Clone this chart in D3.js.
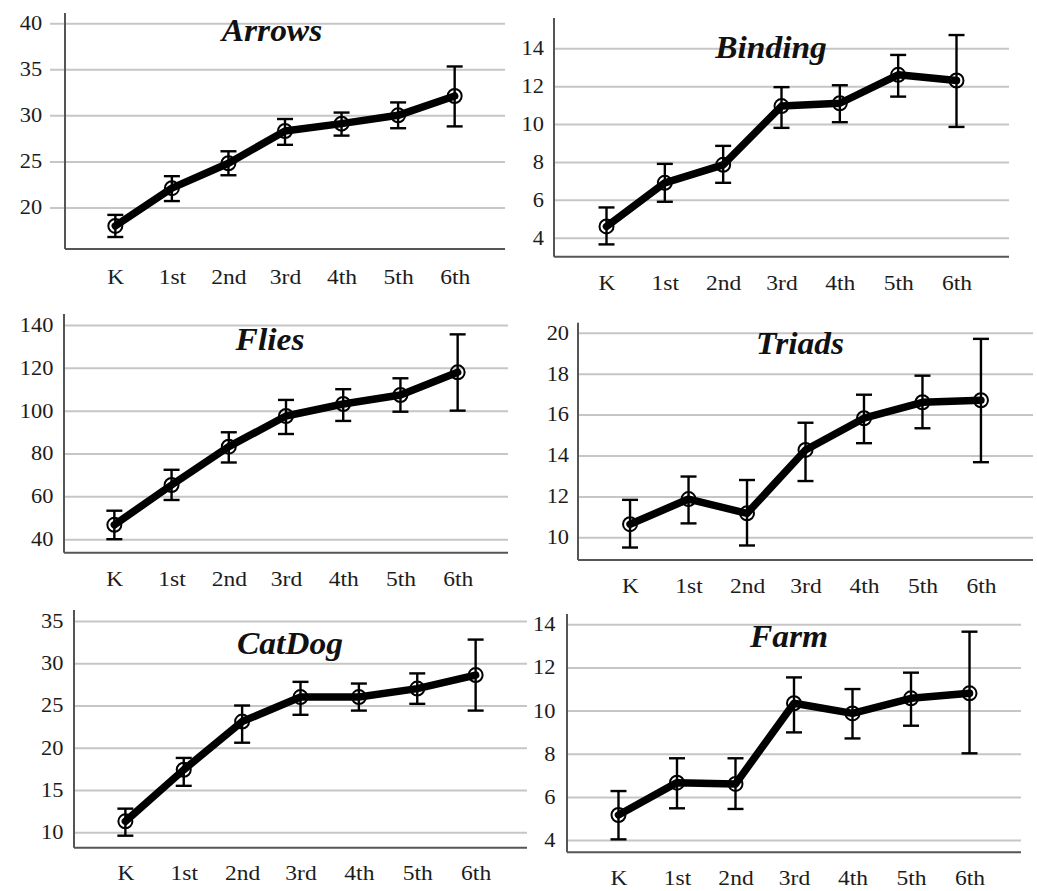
<!DOCTYPE html>
<html>
<head>
<meta charset="utf-8">
<script src="https://cdn.jsdelivr.net/npm/d3@7"></script>
<style>
  body { margin: 0; background: #fff; }
  svg { display: block; }
</style>
</head>
<body>
<script>
// grades on the x axis
const grades = ['K', '1st', '2nd', '3rd', '4th', '5th', '6th']

// means and error bar ends
const arrowsMean = [18.0, 22.1, 24.8, 28.3, 29.1, 30.0, 32.1]
const arrowsLow = [16.8, 20.7, 23.5, 26.8, 27.8, 28.6, 28.8]
const arrowsHigh = [19.2, 23.4, 26.1, 29.6, 30.3, 31.4, 35.3]
const arrowsTicks = [20, 25, 30, 35, 40]

const bindingMean = [4.6, 6.9, 7.85, 10.95, 11.1, 12.6, 12.3]
const bindingLow = [3.65, 5.9, 6.9, 9.8, 10.1, 11.45, 9.85]
const bindingHigh = [5.6, 7.9, 8.85, 11.95, 12.05, 13.65, 14.7]
const bindingTicks = [4, 6, 8, 10, 12, 14]

const fliesMean = [46.7, 65.3, 83.2, 97.5, 103.1, 107.3, 117.9]
const fliesLow = [40.0, 58.3, 75.8, 89.1, 95.2, 99.5, 100.0]
const fliesHigh = [53.3, 72.4, 89.9, 105.0, 110.0, 115.1, 135.6]
const fliesTicks = [40, 60, 80, 100, 120, 140]

const triadsMean = [10.64, 11.87, 11.17, 14.27, 15.82, 16.6, 16.7]
const triadsLow = [9.5, 10.68, 9.6, 12.75, 14.6, 15.33, 13.67]
const triadsHigh = [11.83, 12.97, 12.8, 15.6, 16.97, 17.9, 19.7]
const triadsTicks = [10, 12, 14, 16, 18, 20]

const catdogMean = [11.3, 17.4, 23.1, 26.0, 26.0, 27.0, 28.6]
const catdogLow = [9.6, 15.5, 20.6, 23.9, 24.4, 25.2, 24.4]
const catdogHigh = [12.8, 18.8, 25.0, 27.8, 27.6, 28.8, 32.8]
const catdogTicks = [10, 15, 20, 25, 30, 35]

const farmMean = [5.16, 6.66, 6.6, 10.34, 9.87, 10.57, 10.8]
const farmLow = [4.03, 5.47, 5.44, 8.99, 8.71, 9.3, 8.02]
const farmHigh = [6.27, 7.79, 7.79, 11.54, 11.0, 11.76, 13.66]
const farmTicks = [4, 6, 8, 10, 12, 14]

const width = 1037
const height = 891
const fontFamily = '"Liberation Serif", "Times New Roman", serif'
const textStretch = 1.12
const gridColor = '#c6c6c6'
const axisColor = '#555'
const labelColor = '#1c1c1c'

// panel layout (pixel boxes), kept apart from the values
const panels = [
  { title: 'Arrows', mean: arrowsMean, low: arrowsLow, high: arrowsHigh, ticks: arrowsTicks,
    left: 65, right: 505, top: 13, bottom: 249, domain: [15.5, 41.1], pad: 0.89,
    gridExt: 15, labelGap: 7, xGap: 20, titleX: 272, titleY: 41 },
  { title: 'Binding', mean: bindingMean, low: bindingLow, high: bindingHigh, ticks: bindingTicks,
    left: 554, right: 1009, top: 18, bottom: 256.7, domain: [3.0, 15.6], pad: 0.9,
    gridExt: 0, labelGap: 9, xGap: 18, titleX: 771, titleY: 58 },
  { title: 'Flies', mean: fliesMean, low: fliesLow, high: fliesHigh, ticks: fliesTicks,
    left: 64, right: 508, top: 314, bottom: 552.7, domain: [33.7, 145.1], pad: 0.88,
    gridExt: 0, labelGap: 9.5, xGap: 18, titleX: 270, titleY: 350 },
  { title: 'Triads', mean: triadsMean, low: triadsLow, high: triadsHigh, ticks: triadsTicks,
    left: 578, right: 1033, top: 322.7, bottom: 560, domain: [8.89, 20.49], pad: 0.89,
    gridExt: 0, labelGap: 8, xGap: 18, titleX: 800, titleY: 354 },
  { title: 'CatDog', mean: catdogMean, low: catdogLow, high: catdogHigh, ticks: catdogTicks,
    left: 74, right: 527, top: 610, bottom: 847.7, domain: [8.18, 36.3], pad: 0.88,
    gridExt: 0, labelGap: 9.5, xGap: 17.5, titleX: 290, titleY: 654 },
  { title: 'Farm', mean: farmMean, low: farmLow, high: farmHigh, ticks: farmTicks,
    left: 567, right: 1021, top: 614, bottom: 852.3, domain: [3.43, 14.48], pad: 0.88,
    gridExt: 0, labelGap: 10.4, xGap: 17.5, titleX: 789, titleY: 647 }
]

const svg = d3.select('body')
  .append('svg')
  .attr('width', width)
  .attr('height', height)

svg.append('rect')
  .attr('width', width)
  .attr('height', height)
  .attr('fill', '#fff')

function drawPanel(p) {
  const g = svg.append('g').attr('class', 'panel')

  const x = d3.scalePoint()
    .domain(grades)
    .range([p.left, p.right])
    .padding(p.pad)

  const y = d3.scaleLinear()
    .domain(p.domain)
    .range([p.bottom, p.top])

  const gridStart = p.left - p.gridExt

  // y axis: ticks double as gridlines
  const yAxis = g.append('g')
    .attr('transform', 'translate(' + gridStart + ',0)')
    .call(d3.axisLeft(y)
      .tickValues(p.ticks)
      .tickFormat(d3.format('d'))
      .tickSize(-(p.right - gridStart))
      .tickPadding(p.labelGap))
  yAxis.select('.domain').remove()
  yAxis.selectAll('.tick line')
    .attr('stroke', gridColor)
    .attr('stroke-width', 2)
  yAxis.selectAll('.tick text')
    .attr('font-family', fontFamily)
    .attr('font-size', 20)
    .attr('fill', labelColor)
    .attr('transform', 'scale(' + textStretch + ',1)')

  // x axis labels
  const xAxis = g.append('g')
    .attr('transform', 'translate(0,' + p.bottom + ')')
    .call(d3.axisBottom(x).tickSize(0).tickPadding(p.xGap))
  xAxis.select('.domain').remove()
  xAxis.selectAll('.tick text')
    .attr('font-family', fontFamily)
    .attr('font-size', 21)
    .attr('fill', labelColor)
    .attr('transform', 'scale(' + textStretch + ',1)')

  // axis lines
  g.append('line')
    .attr('x1', p.left)
    .attr('x2', p.left)
    .attr('y1', p.top)
    .attr('y2', p.bottom)
    .attr('stroke', axisColor)
    .attr('stroke-width', 2)
  g.append('line')
    .attr('x1', p.left)
    .attr('x2', p.right)
    .attr('y1', p.bottom)
    .attr('y2', p.bottom)
    .attr('stroke', axisColor)
    .attr('stroke-width', 2)

  const rows = grades.map(function(d, i) {
    return { grade: d, mean: p.mean[i], low: p.low[i], high: p.high[i] }
  })

  // error bars
  const bars = g.append('g')
    .selectAll('g')
    .data(rows)
    .enter()
    .append('g')
  bars.append('line')
    .attr('x1', function(d) { return x(d.grade) })
    .attr('x2', function(d) { return x(d.grade) })
    .attr('y1', function(d) { return y(d.low) })
    .attr('y2', function(d) { return y(d.high) })
    .attr('stroke', '#000')
    .attr('stroke-width', 2.4)
  bars.selectAll('.cap')
    .data(function(d) { return [{ grade: d.grade, v: d.low }, { grade: d.grade, v: d.high }] })
    .enter()
    .append('line')
    .attr('class', 'cap')
    .attr('x1', function(d) { return x(d.grade) - 8 })
    .attr('x2', function(d) { return x(d.grade) + 8 })
    .attr('y1', function(d) { return y(d.v) })
    .attr('y2', function(d) { return y(d.v) })
    .attr('stroke', '#000')
    .attr('stroke-width', 2.4)

  // mean line
  const line = d3.line()
    .x(function(d) { return x(d.grade) })
    .y(function(d) { return y(d.mean) })
  g.append('path')
    .datum(rows)
    .attr('d', line)
    .attr('fill', 'none')
    .attr('stroke', '#000')
    .attr('stroke-width', 7.5)
    .attr('stroke-linejoin', 'round')
    .attr('stroke-linecap', 'round')

  g.append('g')
    .selectAll('circle')
    .data(rows)
    .enter()
    .append('circle')
    .attr('cx', function(d) { return x(d.grade) })
    .attr('cy', function(d) { return y(d.mean) })
    .attr('r', 7)
    .attr('fill', 'none')
    .attr('stroke', '#000')
    .attr('stroke-width', 2)

  // panel title
  g.append('text')
    .attr('transform', 'translate(' + p.titleX + ',' + p.titleY + ') scale(1.08,1)')
    .attr('text-anchor', 'middle')
    .attr('font-family', fontFamily)
    .attr('font-size', 31)
    .attr('font-weight', 'bold')
    .attr('font-style', 'italic')
    .attr('fill', '#111')
    .text(p.title)
}

panels.forEach(drawPanel)
</script>
</body>
</html>
